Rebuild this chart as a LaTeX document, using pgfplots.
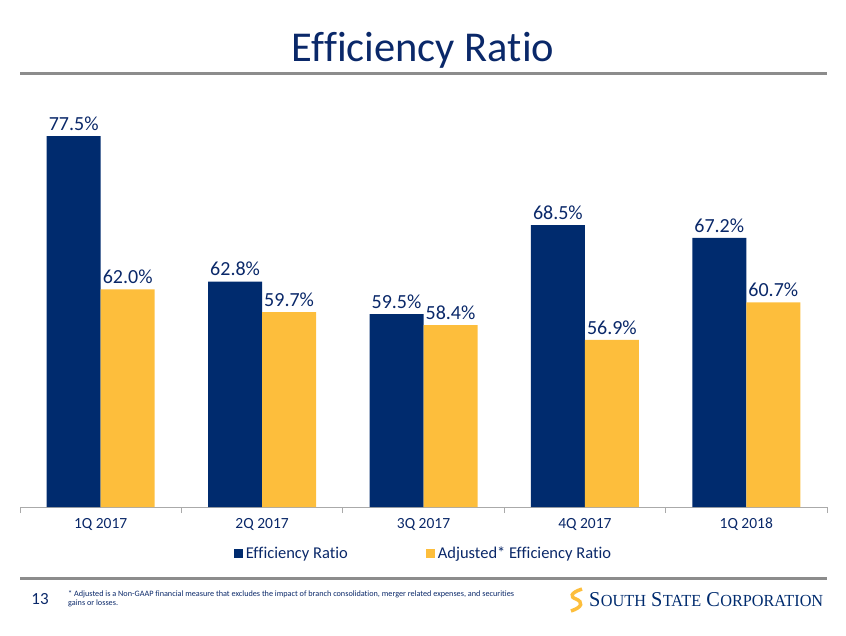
\documentclass[border=0pt]{standalone}
\usepackage{pgfplots}
\pgfplotsset{compat=1.18}
\usepackage{graphicx}
\usepackage{fontspec}
\setmainfont{Carlito}[Ligatures=NoCommon]
\newfontfamily\logofont{Liberation Serif}
\definecolor{navy}{RGB}{0,43,110}
\definecolor{gold}{RGB}{253,190,60}
\definecolor{txt}{RGB}{10,40,105}
\definecolor{rulegray}{RGB}{140,140,140}
\definecolor{axisgray}{RGB}{170,170,170}
\newcommand\Eff{Ef\kern0ptf\kern0pticiency}

\begin{document}
\begin{tikzpicture}[x=1pt,y=1pt]
\useasboundingbox (0,0) rectangle (846,635);
% title
\node[txt, font=\fontsize{42.5}{42.5}\selectfont, anchor=base] at (423,635-62) {\Eff\ Rat\kern0ptio};
\draw[rulegray, line width=3pt] (20,635-74) -- (827,635-74);
\begin{axis}[
  at={(20pt,128pt)}, anchor=south west, scale only axis,
  width=807pt, height=395.6pt,
  xmin=-0.5, xmax=4.5, ymin=40, ymax=80,
  ybar=0pt, bar width=54pt,
  axis x line=bottom, axis y line=none,
  axis line style={-, draw=axisgray, line width=0.8pt},
  xtick={0,1,2,3,4},
  xticklabels={1Q 2017,2Q 2017,3Q 2017,4Q 2017,1Q 2018},
  major tick length=0pt,
  extra x ticks={-0.5,0.5,1.5,2.5,3.5,4.5},
  extra x tick labels={},
  extra x tick style={major tick length=6pt, tick align=outside, tick style={draw=axisgray, line width=0.8pt}},
  xticklabel style={font=\fontsize{15.5}{15.5}\selectfont, text=txt, text height=10pt, text depth=2pt, yshift=-8pt},
  clip=false,
  nodes near coords={\pgfmathprintnumber[fixed,fixed zerofill,precision=1]{\pgfplotspointmeta}\%},
  every node near coord/.append style={font=\fontsize{20}{20}\selectfont, text=txt, yshift=2pt},
  /pgf/number format/assume math mode=true,
  legend columns=2,
  legend style={at={(0.5,-0.118)}, anchor=center, draw=none, fill=none,
    font=\fontsize{16.5}{16.5}\selectfont, text=txt,
    /tikz/every even column/.append style={column sep=76pt},
    /tikz/every odd column/.append style={column sep=1pt}},
  legend image code/.code={\fill[#1] (0pt,-4.5pt) rectangle (9pt,4.5pt);},
]
\addplot[fill=navy, draw=none] coordinates {(0,77.5) (1,62.8) (2,59.5) (3,68.5) (4,67.2)};
\addplot[fill=gold, draw=none] coordinates {(0,62.0) (1,59.7) (2,58.4) (3,56.9) (4,60.7)};
\legend{\Eff\ Rat\kern0ptio, Adjusted* \Eff\ Rat\kern0ptio}
\end{axis}
% footer
\draw[rulegray, line width=3pt] (20,635-578) -- (827,635-578);
\node[txt, font=\fontsize{17}{17}\selectfont, anchor=base] at (40,635-604) {13};
\node[txt, font=\fontsize{8.2}{9}\selectfont, anchor=north west, align=left, inner sep=0pt] at (68,635-590)
  {* Adjusted is a Non-GAAP financial measure that excludes the impact of branch consolidation, merger related expenses, and securities\\gains or losses.};
% logo
\draw[gold, line width=3.5pt] (582,635-589) .. controls (570,635-593) and (570,635-597) .. (576,635-599)
  .. controls (583,635-602) and (583,635-607) .. (571,635-611);
\node[anchor=base west, inner sep=0pt, text=navy] at (589,635-606)
  {\resizebox{234pt}{14pt}{\logofont S\kern0.2pt{\fontsize{8}{8}\selectfont OUTH}\ S\kern0.2pt{\fontsize{8}{8}\selectfont TATE}\ C\kern0.2pt{\fontsize{8}{8}\selectfont ORPORATION}}};
\end{tikzpicture}
\end{document}
